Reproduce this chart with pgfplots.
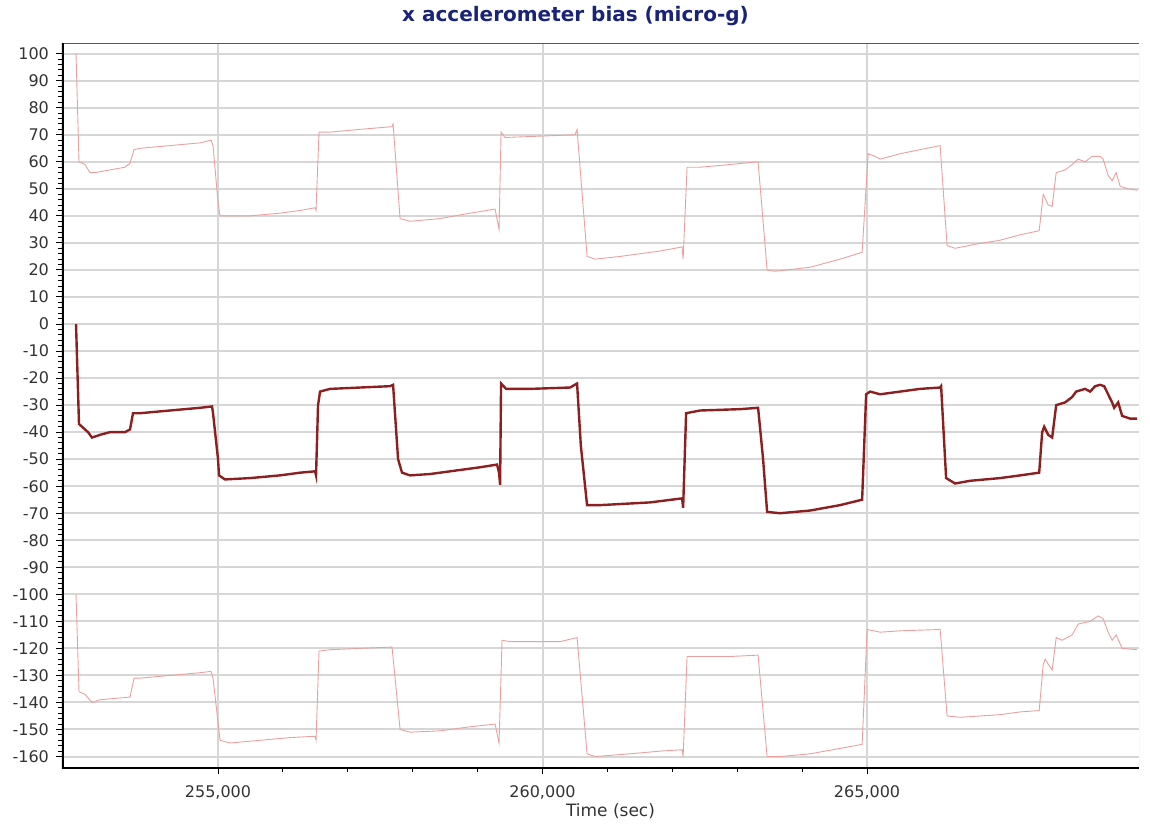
\documentclass[border=0pt]{standalone}
\usepackage{pgfplots}
\pgfplotsset{compat=1.18}
\usepackage{fontspec}
\setmainfont{DejaVu Sans}
\definecolor{biasred}{RGB}{140,32,32}
\definecolor{bandpink}{RGB}{235,160,160}
\definecolor{titleblue}{RGB}{25,35,120}
\definecolor{gridgray}{RGB}{214,214,214}
\definecolor{labelgray}{RGB}{51,51,51}

\begin{document}
\begin{tikzpicture}
\begin{axis}[
    scale only axis,
    width=538.5pt, height=362.5pt,
    xmin=252596, xmax=269190,
    ymin=-164.4, ymax=103.8,
    axis line style={draw=none},
    xtick={255000,260000,265000},
    minor x tick num=4,
    ytick={-160,-150,...,100},
    minor y tick num=4,
    tick align=outside, tick pos=left,
    major tick length=3pt, minor tick length=2pt,
    tick style={black, line width=0.5pt},
    grid=major,
    major grid style={gridgray, line width=1pt},
    scaled x ticks=false,
    /pgf/number format/.cd, fixed, 1000 sep={,}, assume math mode=true,
    /pgfplots/.cd,
    ticklabel style={font=\fontsize{8}{9.6}\selectfont, text=labelgray},
    xticklabel style={yshift=-2pt},
    xlabel={Time (sec)},
    xlabel style={font=\fontsize{8.5}{10}\selectfont, text=labelgray,
                  at={(axis description cs:0.5,0)}, anchor=center, xshift=5pt, yshift=-21.5pt},
]

% upper bound
\addplot[bandpink, line width=0.45pt] coordinates {
(252812,100) (252858,60) (252950,59) (253028,56) (253105,56) (253336,57) (253567,58) (253644,59.5)
(253706,64.5) (253798,65) (254260,66) (254723,67) (254892,68) (254923,66) (255000,45) (255031,40)
(255493,40) (255955,41) (256264,42) (256495,43) (256510,42) (256556,71) (256726,71) (257188,72)
(257681,73) (257697,74) (257805,39) (257959,38) (258421,39) (258883,41) (259269,42.5) (259330,35)
(259361,71) (259423,69) (259962,69.5) (260501,70) (260532,72) (260686,25) (260810,24) (261195,25)
(261811,27) (262150,28.5) (262166,24) (262227,58) (262427,58) (262890,59) (263321,60) (263460,20)
(263583,19.5) (264123,21) (264585,24) (264924,26.5) (265017,63) (265124,62) (265201,61) (265510,63)
(265818,64.5) (266126,66) (266233,29) (266357,28) (266665,29.5) (267051,31) (267359,33) (267652,34.5)
(267714,48) (267791,44) (267852,43.5) (267914,56) (268052,57) (268160,59) (268252,61) (268360,60)
(268468,62) (268591,62) (268637,61) (268714,55) (268776,53) (268838,56) (268899,51) (269023,50)
(269161,49.5)
};

% lower bound
\addplot[bandpink, line width=0.45pt] coordinates {
(252812,-100) (252858,-136) (252950,-137) (253058,-140) (253182,-139) (253413,-138.5) (253644,-138)
(253706,-131) (253798,-131) (254260,-130) (254723,-129) (254892,-128.5) (254923,-131) (255031,-154)
(255185,-155) (255647,-154) (256110,-153) (256495,-152.5) (256510,-154) (256556,-121) (256726,-120.5)
(257188,-120) (257681,-119.5) (257805,-150) (257959,-151) (258421,-150.5) (258883,-149) (259269,-148)
(259330,-155) (259376,-117) (259500,-117.5) (260270,-117.5) (260532,-116) (260686,-159) (260810,-160)
(261349,-159) (261811,-158) (262150,-157.5) (262166,-160) (262227,-123) (262427,-123) (262890,-123)
(263321,-122.5) (263460,-160) (263660,-160) (264123,-159) (264585,-157) (264924,-155.5) (265001,-113)
(265201,-114) (265510,-113.5) (266126,-113) (266233,-145) (266434,-145.5) (267051,-144.5) (267359,-143.5)
(267652,-143) (267714,-126) (267745,-124) (267822,-127) (267852,-128) (267914,-116) (268006,-117)
(268160,-115) (268252,-111) (268437,-110) (268560,-108) (268637,-109) (268714,-114) (268776,-117)
(268838,-115) (268930,-120) (269161,-120.5)
};

% bias estimate
\addplot[biasred, line width=1.2pt] coordinates {
(252812,0) (252858,-37) (252904,-38) (252997,-40) (253058,-42) (253182,-41) (253336,-40) (253567,-40)
(253644,-39) (253690,-33) (253798,-33) (254260,-32) (254723,-31) (254908,-30.5) (254923,-33) (255000,-50)
(255015,-56) (255108,-57.5) (255493,-57) (255955,-56) (256264,-55) (256495,-54.5) (256510,-56) (256541,-30)
(256572,-25) (256726,-24) (257188,-23.5) (257651,-23) (257697,-22.5) (257774,-50) (257835,-55) (257959,-56)
(258267,-55.5) (258729,-54) (259037,-53) (259299,-52) (259330,-55) (259346,-59.5) (259361,-22) (259438,-24)
(259808,-24) (260424,-23.5) (260532,-22) (260590,-45) (260686,-67) (260887,-67) (261657,-66) (262150,-64.5)
(262166,-68) (262212,-33) (262427,-32) (263044,-31.5) (263321,-31) (263398,-50) (263460,-69.5) (263660,-70)
(264123,-69) (264585,-67) (264924,-65) (264986,-26) (265047,-25) (265201,-26) (265510,-25) (265818,-24)
(266126,-23.5) (266141,-23) (266218,-57) (266357,-59) (266588,-58) (267051,-57) (267359,-56) (267652,-55)
(267698,-40) (267729,-38) (267791,-41) (267852,-42) (267914,-30) (268052,-29) (268160,-27) (268221,-25)
(268360,-24) (268437,-25) (268514,-23) (268591,-22.5) (268653,-23) (268714,-26) (268776,-29) (268807,-31)
(268869,-29) (268930,-34) (269053,-35) (269161,-35)
};

% frame
\draw[gray!35, line width=0.5pt] (rel axis cs:1,0) -- (rel axis cs:1,1);
\draw[black!65, line width=1pt] (rel axis cs:0,1) -- (rel axis cs:1,1);
\draw[black, line width=1.6pt] (rel axis cs:0,1) -- (rel axis cs:0,0) -- (rel axis cs:1,0);
\end{axis}
\node[font=\bfseries\fontsize{10}{12}\selectfont, text=titleblue]
    at ([shift={(-12.5pt,13.5pt)}]current axis.north) {x accelerometer bias (micro-g)};
\path ([shift={(-31pt,-29.5pt)}]current axis.south west) rectangle ([shift={(5.5pt,21pt)}]current axis.north east);
\end{tikzpicture}
\end{document}
